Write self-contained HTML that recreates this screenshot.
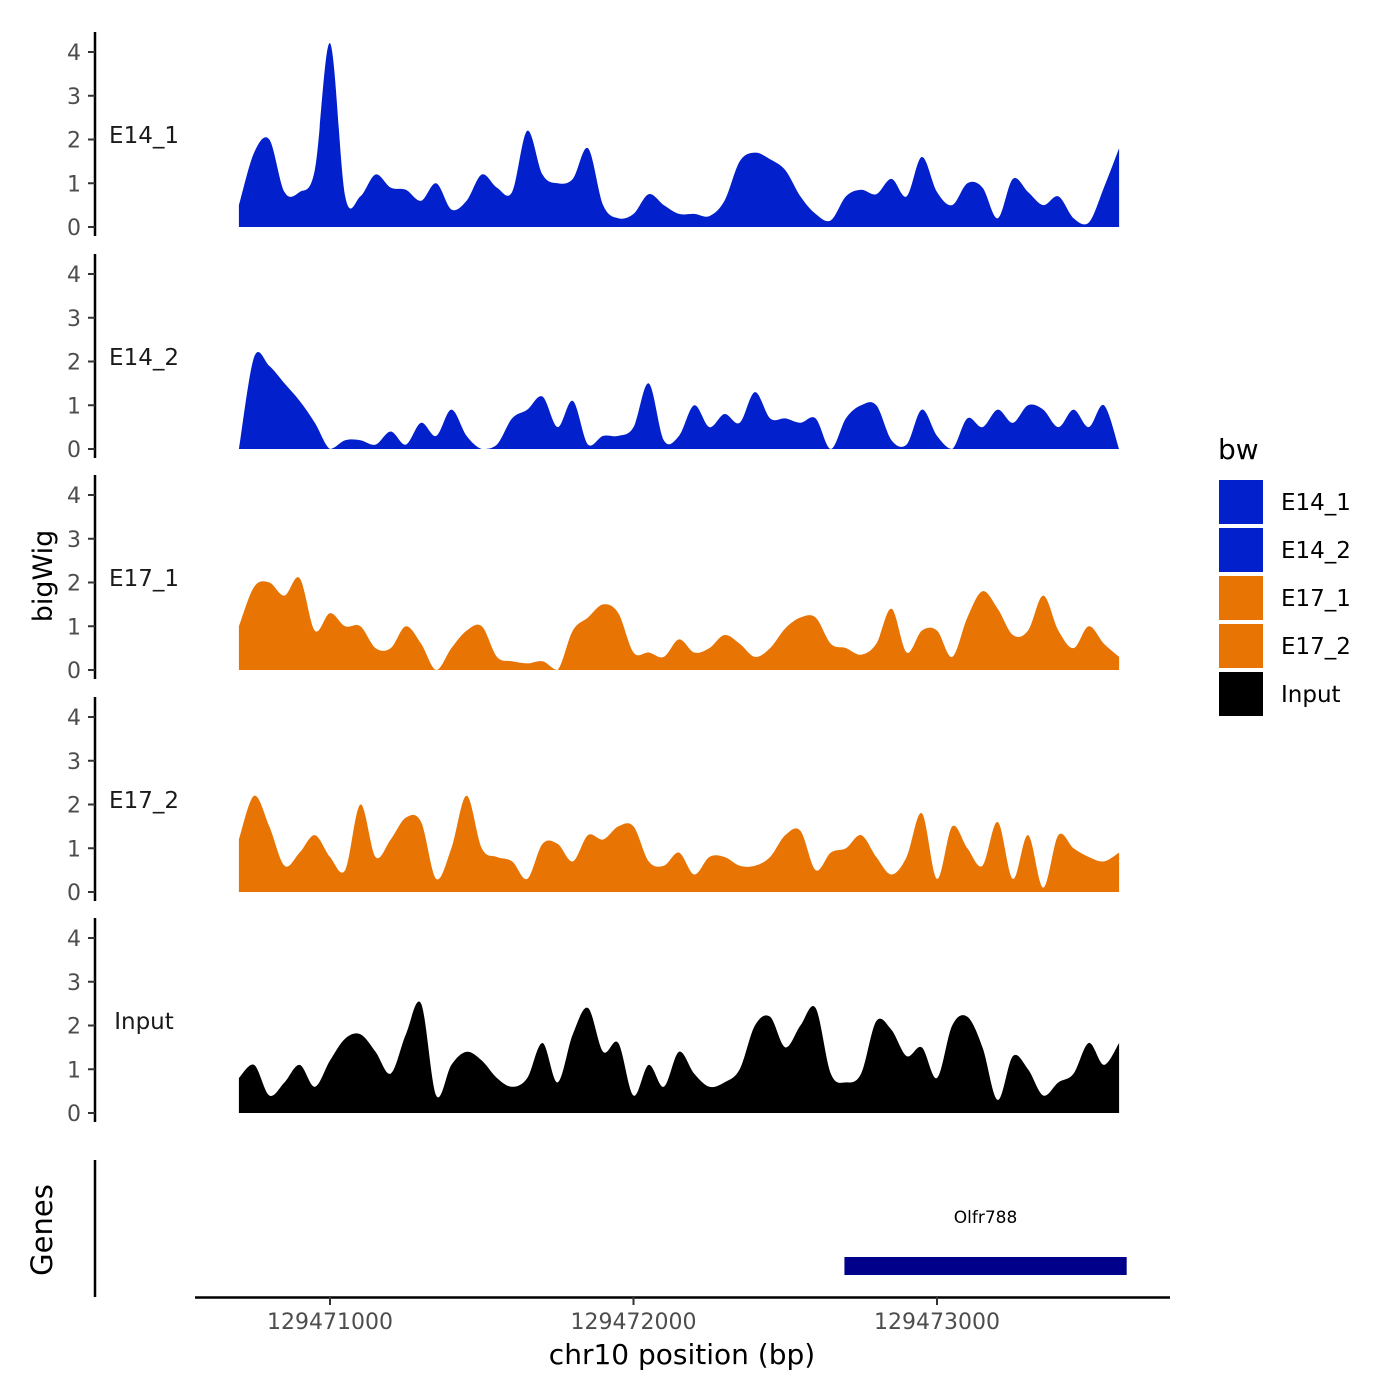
<!DOCTYPE html>
<html><head><meta charset="utf-8"><style>
html,body{margin:0;padding:0;background:#fff}
svg{display:block;font-family:"DejaVu Sans","Liberation Sans",sans-serif}
</style></head><body>
<svg id="chart" width="1400" height="1400" viewBox="0 0 1400 1400" xmlns="http://www.w3.org/2000/svg">
<g id="panels"></g>
<g>
<line x1="95" y1="1160" x2="95" y2="1297" stroke="#000" stroke-width="2.5"/>
<text x="52" y="1230" font-size="29" text-anchor="middle" transform="rotate(-90 52 1230)">Genes</text>
<rect id="gene" y="1257" height="18" fill="#00008B"/>
<text id="genelabel" y="1223" font-size="17" text-anchor="middle">Olfr788</text>
</g>
<g id="xaxis">
<line x1="195" y1="1297.5" x2="1170" y2="1297.5" stroke="#000" stroke-width="2.5"/>
</g>
<text x="682" y="1364" font-size="28" text-anchor="middle">chr10 position (bp)</text>
<text x="52" y="576" font-size="27" text-anchor="middle" transform="rotate(-90 52 576)">bigWig</text>
<g id="legend">
<text x="1218" y="459" font-size="28">bw</text>
</g>
</svg>
<script>
var positions=[129470700,129470750,129470800,129470850,129470900,129470950,129471000,129471050,129471100,129471150,129471200,129471250,129471300,129471350,129471400,129471450,129471500,129471550,129471600,129471650,129471700,129471750,129471800,129471850,129471900,129471950,129472000,129472050,129472100,129472150,129472200,129472250,129472300,129472350,129472400,129472450,129472500,129472550,129472600,129472650,129472700,129472750,129472800,129472850,129472900,129472950,129473000,129473050,129473100,129473150,129473200,129473250,129473300,129473350,129473400,129473450,129473500,129473550,129473600];
var e14_1=[0.5,1.7,2.0,0.8,0.8,1.3,4.2,0.7,0.7,1.2,0.9,0.85,0.6,1.0,0.4,0.6,1.2,0.9,0.8,2.2,1.2,1.0,1.1,1.8,0.5,0.2,0.3,0.75,0.5,0.3,0.3,0.25,0.6,1.5,1.7,1.55,1.3,0.7,0.3,0.15,0.7,0.85,0.75,1.1,0.7,1.6,0.8,0.5,1.0,0.9,0.2,1.1,0.8,0.5,0.7,0.2,0.1,0.9,1.8];
var e14_2=[0,2.1,1.9,1.5,1.1,0.6,0,0.2,0.2,0.1,0.4,0.1,0.6,0.3,0.9,0.3,0,0.1,0.7,0.9,1.2,0.5,1.1,0.1,0.3,0.3,0.5,1.5,0.2,0.3,1.0,0.5,0.8,0.6,1.3,0.7,0.7,0.6,0.7,0,0.7,1.0,1.0,0.2,0.1,0.9,0.3,0,0.7,0.5,0.9,0.6,1.0,0.9,0.5,0.9,0.5,1.0,0];
var e17_1=[1.0,1.9,2.0,1.7,2.1,0.9,1.3,1.0,1.0,0.5,0.5,1.0,0.6,0,0.5,0.9,1.0,0.3,0.2,0.15,0.2,0,0.9,1.2,1.5,1.3,0.4,0.4,0.3,0.7,0.4,0.5,0.8,0.6,0.3,0.5,0.95,1.2,1.2,0.6,0.5,0.35,0.6,1.4,0.4,0.9,0.9,0.3,1.2,1.8,1.4,0.8,0.9,1.7,0.9,0.5,1.0,0.6,0.3];
var e17_2=[1.2,2.2,1.5,0.6,0.9,1.3,0.8,0.5,2.0,0.8,1.2,1.7,1.6,0.3,1.0,2.2,1.0,0.8,0.7,0.3,1.1,1.1,0.7,1.3,1.2,1.5,1.5,0.7,0.6,0.9,0.4,0.8,0.8,0.6,0.6,0.8,1.3,1.4,0.5,0.9,1.0,1.3,0.8,0.4,0.8,1.8,0.3,1.5,1.0,0.6,1.6,0.3,1.3,0.1,1.3,1.0,0.8,0.7,0.9];
var input=[0.8,1.1,0.4,0.7,1.1,0.6,1.2,1.7,1.8,1.4,0.9,1.8,2.5,0.4,1.1,1.4,1.2,0.8,0.6,0.8,1.6,0.7,1.8,2.4,1.4,1.6,0.4,1.1,0.6,1.4,0.9,0.6,0.7,1.0,2.0,2.2,1.5,2.0,2.4,0.9,0.7,0.9,2.1,1.9,1.3,1.5,0.8,2.0,2.2,1.5,0.3,1.3,1.0,0.4,0.7,0.9,1.6,1.1,1.6];
var trackNames=["E14_1","E14_2","E17_1","E17_2","Input"];
var trackColors=["#0220CC","#0220CC","#E87403","#E87403","#000000"];
var yTicks=[0,1,2,3,4];
var xTicks=[129471000,129472000,129473000];
var gene={name:"Olfr788",start:129472695,end:129473625};

var NS="http://www.w3.org/2000/svg";
function xs(bp){return 330+(bp-129471000)*0.3035;}
var zeros=[227,449,670,892,1113];
function ys(v,i){return zeros[i]-v*43.75;}
function mk(tag,attrs,parent){var e=document.createElementNS(NS,tag);for(var k in attrs)e.setAttribute(k,attrs[k]);parent.appendChild(e);return e;}
var series=[e14_1,e14_2,e17_1,e17_2,input];
var panels=document.getElementById('panels');
for(var i=0;i<5;i++){
  var g=mk('g',{},panels);
  
  
  var ax=mk('line',{x1:95,x2:95,y1:zeros[i]-195,y2:zeros[i]+9,stroke:'#000','stroke-width':2.5},g);
  
  
  for(var t=0;t<yTicks.length;t++){
    var yy=ys(yTicks[t],i);
    var tk=mk('line',{x1:88,x2:95,y1:yy,y2:yy,stroke:'#333','stroke-width':2},g);
    
    
    var tl=mk('text',{x:81,y:yy+8,'font-size':22,'text-anchor':'end',fill:'#4d4d4d'},g);
    tl.textContent=yTicks[t];
    
    
  }
  var lab=mk('text',{x:144,y:zeros[i]-84,'font-size':23,'text-anchor':'middle',fill:'#1a1a1a'},g);
  lab.textContent=trackNames[i];
  
  
  var pts=[];
  for(var j=0;j<positions.length;j++)pts.push([xs(positions[j]),ys(series[i][j],i)]);
  var d='M'+pts[0][0].toFixed(1)+','+zeros[i]+' L'+pts[0][0].toFixed(1)+','+pts[0][1].toFixed(1);
  for(var j=0;j<pts.length-1;j++){
    var p0=pts[Math.max(0,j-1)],p1=pts[j],p2=pts[j+1],p3=pts[Math.min(pts.length-1,j+2)];
    var c1x=p1[0]+(p2[0]-p0[0])/6,c1y=Math.min(zeros[i],p1[1]+(p2[1]-p0[1])/6);
    var c2x=p2[0]-(p3[0]-p1[0])/6,c2y=Math.min(zeros[i],p2[1]-(p3[1]-p1[1])/6);
    d+=' C'+c1x.toFixed(1)+','+c1y.toFixed(1)+' '+c2x.toFixed(1)+','+c2y.toFixed(1)+' '+p2[0].toFixed(1)+','+p2[1].toFixed(1);
  }
  d+=' L'+pts[pts.length-1][0].toFixed(1)+','+zeros[i]+' Z';
  var p=mk('path',{d:d,fill:trackColors[i]},g);
  
  
}
var xa=document.getElementById('xaxis');
for(var t=0;t<xTicks.length;t++){
  var xx=xs(xTicks[t]);
  var tk=mk('line',{x1:xx,x2:xx,y1:1297,y2:1305,stroke:'#333','stroke-width':2},xa);
  
  
  var tl=mk('text',{x:xx,y:1329,'font-size':22,'text-anchor':'middle',fill:'#4d4d4d'},xa);
  tl.textContent=xTicks[t];
  
  
}
var gr=document.getElementById('gene');
gr.setAttribute('x',xs(gene.start));
gr.setAttribute('width',xs(gene.end)-xs(gene.start));
var gl=document.getElementById('genelabel');
gl.setAttribute('x',(xs(gene.start)+xs(gene.end))/2);
var lg=document.getElementById('legend');
for(var i=0;i<5;i++){
  var r=mk('rect',{x:1219,y:480+48*i,width:44,height:44,fill:trackColors[i]},lg);
  
  
  var tx=mk('text',{x:1281,y:510+48*i,'font-size':23},lg);
  tx.textContent=trackNames[i];
  
  
}
</script>
</body></html>
